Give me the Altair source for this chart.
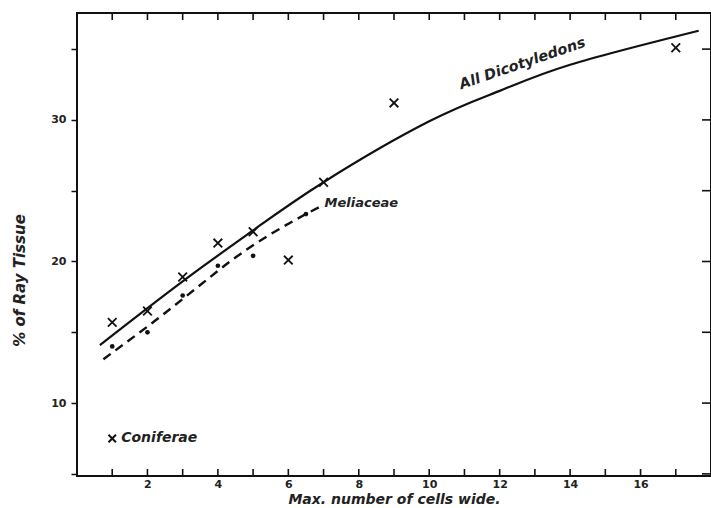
import altair as alt
import pandas as pd

# Data
dicot_x = [1, 2, 3, 4, 5, 6, 7, 9, 17]
dicot_y = [15.7, 16.5, 18.9, 21.3, 22.1, 20.1, 25.6, 31.2, 35.1]

conif_x = [1]
conif_y = [7.5]

mel_x = [1, 2, 3, 4, 5, 6.5]
mel_y = [14.0, 15.0, 17.6, 19.7, 20.4, 23.35]

curve_x = [0.65, 3, 5, 7, 10, 12, 14, 17.65]
curve_y = [14.1, 18.6, 22.2, 25.6, 29.9, 32.05, 33.9, 36.3]

mcurve_x = [0.75, 2.26, 3.48, 4.43, 6.5, 6.97]
mcurve_y = [13.1, 15.9, 18.3, 20.16, 23.35, 23.96]

x_ticks = list(range(1, 18))
y_ticks = [5, 10, 15, 20, 25, 30, 35]

FONT = "DejaVu Sans"
XSHAPE = "M-1,-1L1,1M-1,1L1,-1"
VSHAPE = "M0,-1L0,1"
W, H = 634, 463
TL = 7  # inward tick length

xs = alt.Scale(domain=[0, 18], nice=False, zero=False)
ys = alt.Scale(domain=[4.85, 37.55], nice=False, zero=False)

curve_df = pd.DataFrame({"x": curve_x, "y": curve_y})
mcurve_df = pd.DataFrame({"x": mcurve_x, "y": mcurve_y})
dicot_df = pd.DataFrame({"x": dicot_x, "y": dicot_y})
conif_df = pd.DataFrame({"x": conif_x, "y": conif_y})
mel_df = pd.DataFrame({"x": mel_x, "y": mel_y})
xt_df = pd.DataFrame({"tx": [float(v) for v in x_ticks]})
yt_df = pd.DataFrame({"ty": [float(v) for v in y_ticks]})

bottom_axis = alt.Axis(
    values=x_ticks,
    labelExpr="datum.value % 2 == 0 ? datum.label : ''",
    ticks=False, domain=False, grid=False,
    labelFont=FONT, labelFontSize=11, labelFontWeight="bold", labelPadding=2,
    labelColor="#222",
    title="Max. number of cells wide.", titleFont=FONT, titleFontSize=14,
    titleFontStyle="italic", titleFontWeight="bold", titleColor="#222",
    titlePadding=3,
)
left_axis = alt.Axis(
    values=y_ticks,
    labelExpr="datum.value % 10 == 0 ? datum.label : ''",
    tickSize=6, domain=False, grid=False,
    labelFont=FONT, labelFontSize=11, labelFontWeight="bold", labelPadding=5,
    labelColor="#222",
    title="% of Ray Tissue", titleFont=FONT, titleFontSize=15,
    titleFontStyle="italic", titleFontWeight="bold", titleColor="#222",
    titleX=-50, titleY=267,
)


def X(field):
    return alt.X(field, scale=xs, axis=bottom_axis)


def Y(field):
    return alt.Y(field, scale=ys, axis=left_axis)


curve = alt.Chart(curve_df).mark_line(
    interpolate="natural", color="#111", strokeWidth=2.2
).encode(x=X("x:Q"), y=Y("y:Q"))

mcurve = alt.Chart(mcurve_df).mark_line(
    interpolate="monotone", color="#111", strokeWidth=2.4, strokeDash=[9, 6]
).encode(x=X("x:Q"), y=Y("y:Q"))

crosses = alt.Chart(dicot_df).mark_point(
    shape=XSHAPE, size=75, filled=False, color="#111", strokeWidth=1.8, opacity=1
).encode(x=X("x:Q"), y=Y("y:Q"))

conif = alt.Chart(conif_df).mark_point(
    shape=XSHAPE, size=55, filled=False, color="#111", strokeWidth=2, opacity=1
).encode(x=X("x:Q"), y=Y("y:Q"))

dots = alt.Chart(mel_df).mark_circle(size=22, color="#111", opacity=1).encode(
    x=X("x:Q"), y=Y("y:Q"))

# inward tick marks on bottom, top and right frame edges
vtick_style = dict(shape=VSHAPE, size=TL * TL, filled=False, color="#111",
                   strokeWidth=1.6, opacity=1)
bottom_ticks = alt.Chart(xt_df).mark_point(**vtick_style).encode(
    x=X("tx:Q"), y=alt.value(H - TL / 2))
top_ticks = alt.Chart(xt_df).mark_point(**vtick_style).encode(
    x=X("tx:Q"), y=alt.value(TL / 2))
right_ticks = alt.Chart(yt_df).mark_rule(color="#111", strokeWidth=1.6).encode(
    y=Y("ty:Q"), x=alt.value(W - TL - 2), x2=alt.value(W))

txt_style = dict(font=FONT, fontStyle="italic", fontWeight="bold", color="#222")

lab_dicot = alt.Chart().mark_text(
    text="All Dicotyledons", fontSize=14.5, angle=341, **txt_style
).encode(x=alt.XDatum(12.65, scale=xs, axis=bottom_axis),
         y=alt.YDatum(33.95, scale=ys, axis=left_axis))

lab_mel = alt.Chart().mark_text(
    text="Meliaceae", fontSize=13, align="left", dx=2, **txt_style
).encode(x=alt.XDatum(6.97, scale=xs, axis=bottom_axis),
         y=alt.YDatum(24.1, scale=ys, axis=left_axis))

lab_conif = alt.Chart().mark_text(
    text="Coniferae", fontSize=14, align="left", dx=9, **txt_style
).encode(x=alt.XDatum(1.0, scale=xs, axis=bottom_axis),
         y=alt.YDatum(7.5, scale=ys, axis=left_axis))

chart = alt.layer(
    curve, mcurve, crosses, conif, dots, bottom_ticks, top_ticks, right_ticks,
    lab_dicot, lab_mel, lab_conif
).properties(
    width=W, height=H,
    autosize=alt.AutoSizeParams(type="none"),
    padding={"left": 77, "top": 13, "right": 0, "bottom": 32},
    background="white",
).configure_view(
    stroke="#111", strokeWidth=2
).configure_axis(
    tickColor="#111", tickWidth=1.5
)

chart.save("out.html", embed_options={"renderer": "svg", "actions": False})
